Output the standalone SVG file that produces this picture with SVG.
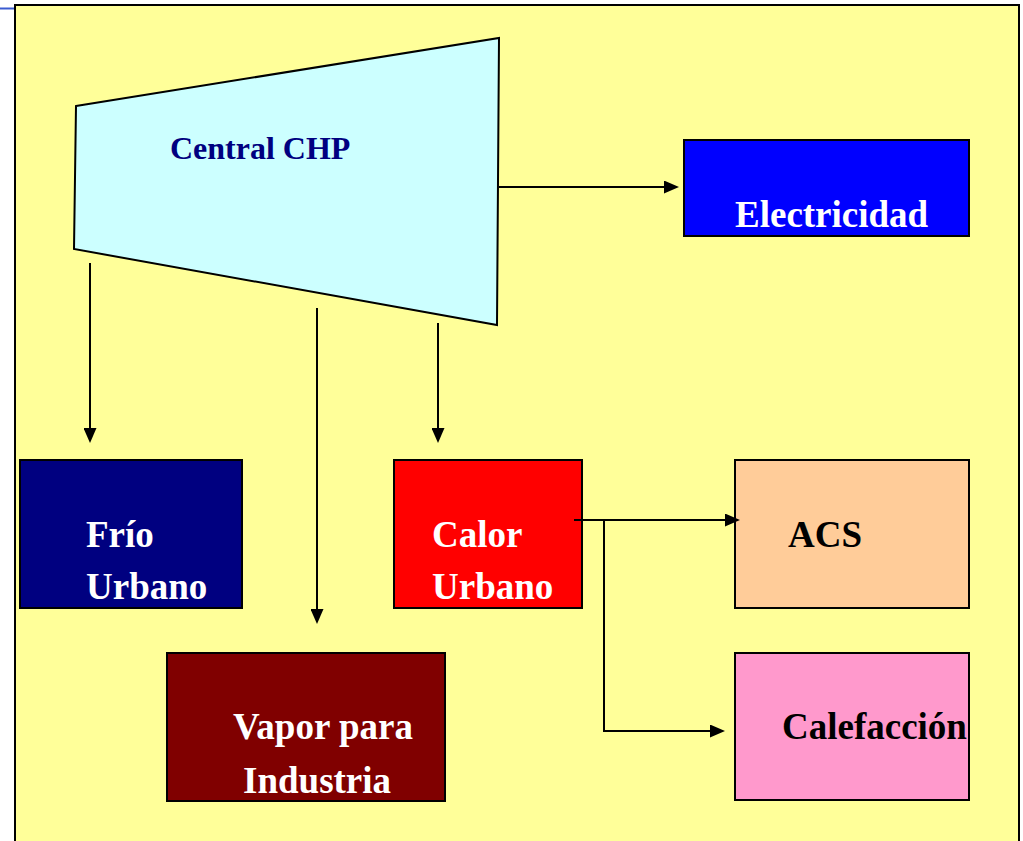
<svg xmlns="http://www.w3.org/2000/svg" width="1023" height="841" viewBox="0 0 1023 841">
<style>
  .box { stroke: #000; stroke-width: 2; }
  .lbl { font-family: "Liberation Serif", "Times New Roman", serif; font-weight: bold; font-size: 37px; }
  .w { fill: #fff; }
  .k { fill: #000; }
  .conn { fill: none; stroke: #000; stroke-width: 2; }
</style>
<defs>
  <marker id="arr" markerUnits="userSpaceOnUse" markerWidth="15" markerHeight="13" viewBox="0 0 15 13" refX="12" refY="6.5" orient="auto">
    <path d="M0,0 L15,6.5 L0,13 Z" fill="#000"/>
  </marker>
</defs>
<rect x="0" y="0" width="1023" height="841" fill="#fff"/>
<line x1="0" y1="8.5" x2="15" y2="8.5" stroke="#3a5bd0" stroke-width="2"/>
<rect id="background" x="15" y="5" width="1004" height="900" fill="#FFFF99" stroke="#000" stroke-width="2"/>

<g id="central-chp">
  <polygon points="76,106 499,38 497,325 74,249" fill="#CCFFFF" stroke="#000" stroke-width="2"/>
  <text x="170" y="159" font-family="Liberation Serif, Times New Roman, serif" font-weight="bold" font-size="32" fill="#000080">Central CHP</text>
</g>

<g id="electricidad">
  <rect class="box" x="684" y="140" width="285" height="96" fill="#0000FF"/>
  <text class="lbl w" x="735" y="227">Electricidad</text>
</g>

<g id="frio-urbano">
  <rect class="box" x="20" y="460" width="222" height="148" fill="#000080"/>
  <text class="lbl w" x="86" y="547">Frío</text>
  <text class="lbl w" x="86" y="599">Urbano</text>
</g>

<g id="calor-urbano">
  <rect class="box" x="394" y="460" width="188" height="148" fill="#FF0000"/>
  <text class="lbl w" x="432" y="547">Calor</text>
  <text class="lbl w" x="432" y="599">Urbano</text>
</g>

<g id="vapor-industria">
  <rect class="box" x="167" y="653" width="278" height="148" fill="#800000"/>
  <text class="lbl w" x="233" y="739">Vapor para</text>
  <text class="lbl w" x="243" y="793">Industria</text>
</g>

<g id="acs">
  <rect class="box" x="735" y="460" width="234" height="148" fill="#FFCC99"/>
  <text class="lbl k" x="788" y="547">ACS</text>
</g>

<g id="calefaccion">
  <rect class="box" x="735" y="653" width="234" height="147" fill="#FF99CC"/>
  <text class="lbl k" x="782" y="739">Calefacción</text>
</g>

<g id="connectors">
  <line class="conn" x1="499" y1="187" x2="676" y2="187" marker-end="url(#arr)"/>
  <line class="conn" x1="90" y1="263" x2="90" y2="440" marker-end="url(#arr)"/>
  <line class="conn" x1="317" y1="308" x2="317" y2="621" marker-end="url(#arr)"/>
  <line class="conn" x1="438" y1="323" x2="438" y2="440" marker-end="url(#arr)"/>
  <line class="conn" x1="574" y1="520" x2="737" y2="520" marker-end="url(#arr)"/>
  <polyline class="conn" points="604,520 604,731 722,731" marker-end="url(#arr)"/>
</g>
</svg>
